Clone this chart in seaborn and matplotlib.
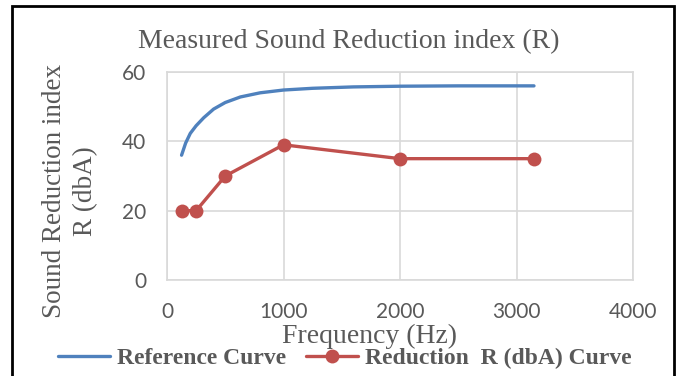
import matplotlib
matplotlib.use("Agg")
import matplotlib.pyplot as plt
import seaborn as sns
import pandas as pd
from matplotlib.patches import Rectangle
from matplotlib.lines import Line2D

# Reference curve
ref_freq = [125, 160, 200, 250, 315, 400, 500, 630, 800, 1000, 1250, 1600, 2000, 2500, 3150]
ref_vals = [36, 39.5, 42.3, 44.5, 46.8, 49.3, 51.2, 52.8, 54.0, 54.8, 55.3, 55.7, 55.9, 56.0, 56.0]

# Measured reduction
red_freq = [125, 250, 500, 1000, 2000, 3150]
red_vals = [20, 20, 30, 39, 35, 35]

x_ticks = [0, 1000, 2000, 3000, 4000]
y_ticks = [0, 20, 40, 60]

BLUE = "#4F81BD"
RED = "#C0504D"
GRAY = "#595959"

sns.set_style("white")
plt.rcParams["font.family"] = ["Liberation Serif", "DejaVu Sans"]

fig = plt.figure(figsize=(6.78, 3.76), dpi=100)
W, H = 678, 376
ax = fig.add_axes([167 / W, 1 - 280 / H, (633 - 167) / W, (280 - 72) / H])

ref_df = pd.DataFrame({"Frequency": ref_freq, "R": ref_vals})
red_df = pd.DataFrame({"Frequency": red_freq, "R": red_vals})

sns.lineplot(data=ref_df, x="Frequency", y="R", ax=ax, color=BLUE, linewidth=2.4,
             solid_capstyle="round", solid_joinstyle="round", zorder=3)
sns.lineplot(data=red_df, x="Frequency", y="R", ax=ax, color=RED, linewidth=2.4,
             marker="o", markersize=10, markeredgewidth=0, zorder=4)

ax.set_xlim(0, 4000)
ax.set_ylim(0, 60)
ax.set_xticks(x_ticks)
ax.set_yticks(y_ticks)
ax.grid(True, color="#D9D9D9", linewidth=1.2)
for s in ax.spines.values():
    s.set_color("#D9D9D9")
    s.set_linewidth(1.2)
ax.tick_params(axis="x", length=0, labelcolor=GRAY, pad=16)
ax.tick_params(axis="y", length=0, labelcolor=GRAY, pad=15)
for lab in ax.get_xticklabels() + ax.get_yticklabels():
    lab.set_fontfamily("Lato")
    lab.set_fontsize(15)
ax.set_xlabel("")
ax.set_ylabel("")

fig.text(349 / W, 1 - 42 / H, "Measured Sound Reduction index (R)", ha="center", va="center",
         fontsize=20, color=GRAY)
fig.text(370 / W, 1 - 336 / H, "Frequency (Hz)", ha="center", va="center",
         fontsize=20, color=GRAY)
fig.text(70 / W, 1 - 191 / H, "Sound Reduction index\nR (dbA)", ha="center", va="center",
         rotation=90, fontsize=19.5, color=GRAY, linespacing=1.3)

handles = [Line2D([], [], color=BLUE, linewidth=2.4),
           Line2D([], [], color=RED, linewidth=2.4, marker="o", markersize=10, markeredgewidth=0)]
leg = fig.legend(handles, ["Reference Curve", "Reduction  R (dbA) Curve"],
                 loc="center left", bbox_to_anchor=(58 / W, 1 - 358 / H), ncol=2, frameon=False,
                 prop={"family": "Liberation Serif", "weight": "bold", "size": 17},
                 handlelength=2.2, handletextpad=0.3, columnspacing=0.85, borderpad=0,
                 borderaxespad=0)
for t in leg.get_texts():
    t.set_color(GRAY)

fig.patches.append(Rectangle((12 / W, -0.05), (674 - 12) / W, 1 - 6 / H + 0.05,
                             transform=fig.transFigure, fill=False, edgecolor="black",
                             linewidth=2.0, zorder=10))

fig.savefig("out.png", dpi=100)
